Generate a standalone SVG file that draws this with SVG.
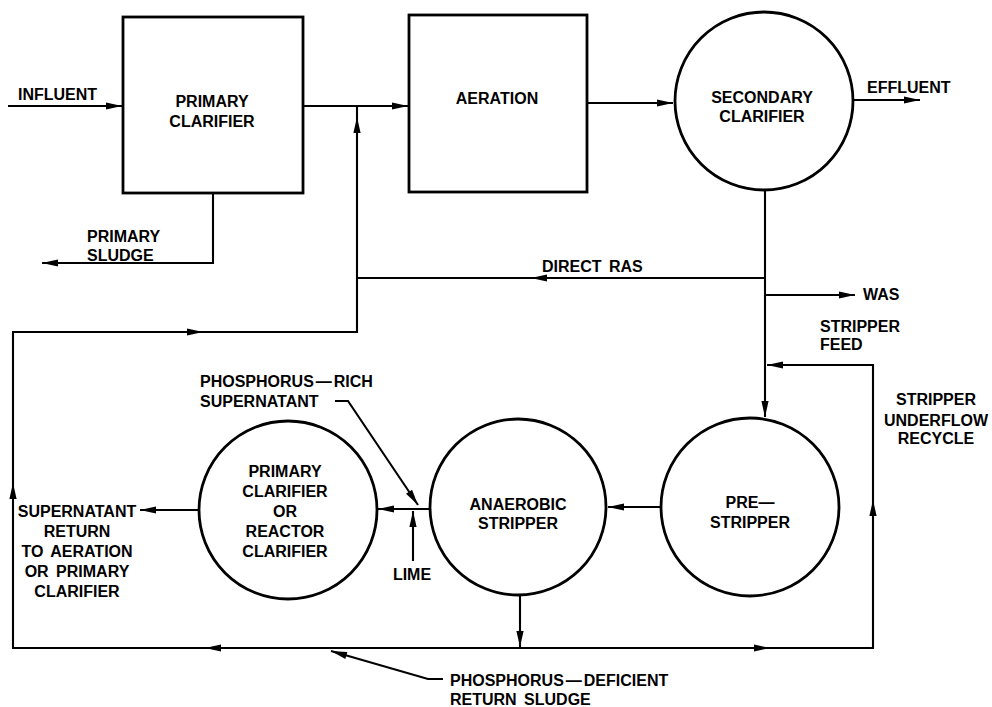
<svg xmlns="http://www.w3.org/2000/svg" width="992" height="707" viewBox="0 0 992 707">
<style>
.shape{fill:none;stroke:#000;stroke-width:2.8}
.ln{fill:none;stroke:#000;stroke-width:2.1}
.arr{marker-end:url(#ah)}
text{font-family:"Liberation Sans",Arial,sans-serif;font-weight:bold;font-size:16px;fill:#000;word-spacing:3px}
.c{text-anchor:middle}
</style>
<defs>
<marker id="ah" markerUnits="userSpaceOnUse" markerWidth="18" markerHeight="9" viewBox="-18 -4.5 18 9" refX="0" refY="0" orient="auto">
<path d="M0,0 L-16,-3.6 L-16,3.6 Z" fill="#000"/>
</marker>
</defs>
<rect width="992" height="707" fill="#fff"/>

<g id="primary-clarifier">
<rect class="shape" x="123" y="17" width="180" height="176"/>
<text class="c" x="212" y="107">PRIMARY</text>
<text class="c" x="212" y="127">CLARIFIER</text>
</g>
<g id="aeration">
<rect class="shape" x="409" y="15" width="178" height="177"/>
<text class="c" x="497" y="104">AERATION</text>
</g>
<g id="secondary-clarifier">
<circle class="shape" cx="764" cy="101" r="89"/>
<text class="c" x="762" y="103">SECONDARY</text>
<text class="c" x="762" y="122">CLARIFIER</text>
</g>
<g id="pre-stripper">
<circle class="shape" cx="750" cy="507" r="89"/>
<text class="c" x="750" y="508">PRE—</text>
<text class="c" x="750" y="528">STRIPPER</text>
</g>
<g id="anaerobic-stripper">
<circle class="shape" cx="518" cy="507" r="88"/>
<text class="c" x="518" y="510">ANAEROBIC</text>
<text class="c" x="518" y="529">STRIPPER</text>
</g>
<g id="reactor-clarifier">
<circle class="shape" cx="288" cy="510" r="89"/>
<text class="c" x="285" y="477">PRIMARY</text>
<text class="c" x="285" y="497">CLARIFIER</text>
<text class="c" x="285" y="517">OR</text>
<text class="c" x="285" y="537">REACTOR</text>
<text class="c" x="285" y="557">CLARIFIER</text>
</g>

<g id="connectors">
<path class="ln arr" d="M8,106 H122"/>
<path class="ln arr" d="M303,106 H408"/>
<path class="ln arr" d="M213,193 V263 H42"/>
<path class="ln arr" d="M587,103 H673"/>
<path class="ln arr" d="M852,100 H920"/>
<path class="ln arr" d="M765,190 V417"/>
<path class="ln arr" d="M765,278 H531"/>
<path class="ln" d="M531,278 H357"/>
<path class="ln arr" d="M765,295 H855"/>
<path class="ln arr" d="M661,507 H608"/>
<path class="ln arr" d="M520,595 V647"/>
<path class="ln arr" d="M520,648 H205"/>
<path class="ln arr" d="M205,648 H13 V483"/>
<path class="ln arr" d="M13,483 V332 H203"/>
<path class="ln arr" d="M203,332 H357 V117"/>
<path class="ln" d="M357,117 V106"/>
<path class="ln arr" d="M520,648 H770"/>
<path class="ln arr" d="M770,648 H873 V500"/>
<path class="ln arr" d="M873,500 V365 H767"/>
<path class="ln arr" d="M430,509 H378"/>
<path class="ln arr" d="M413,561 V511"/>
<path class="ln arr" d="M335,401 H348 L418,505"/>
<path class="ln arr" d="M198,510 H140"/>
<path class="ln arr" d="M443,679 H428 L331,651"/>
</g>

<g id="labels">
<text x="18" y="100">INFLUENT</text>
<text x="87" y="242">PRIMARY</text>
<text x="87" y="261">SLUDGE</text>
<text x="867" y="93">EFFLUENT</text>
<text x="542" y="272">DIRECT RAS</text>
<text x="863" y="300">WAS</text>
<text x="820" y="332">STRIPPER</text>
<text x="820" y="350">FEED</text>
<text class="c" x="936" y="405">STRIPPER</text>
<text class="c" x="936" y="426">UNDERFLOW</text>
<text class="c" x="936" y="444">RECYCLE</text>
<text x="200" y="387">PHOSPHORUS<tspan dx="2">—</tspan><tspan dx="2">RICH</tspan></text>
<text x="200" y="407">SUPERNATANT</text>
<text class="c" x="412" y="580">LIME</text>
<text class="c" x="77" y="517">SUPERNATANT</text>
<text class="c" x="77" y="537">RETURN</text>
<text class="c" x="77" y="557">TO AERATION</text>
<text class="c" x="77" y="577">OR PRIMARY</text>
<text class="c" x="77" y="597">CLARIFIER</text>
<text x="450" y="686">PHOSPHORUS<tspan dx="2">—</tspan><tspan dx="2">DEFICIENT</tspan></text>
<text x="450" y="705">RETURN SLUDGE</text>
</g>
</svg>
